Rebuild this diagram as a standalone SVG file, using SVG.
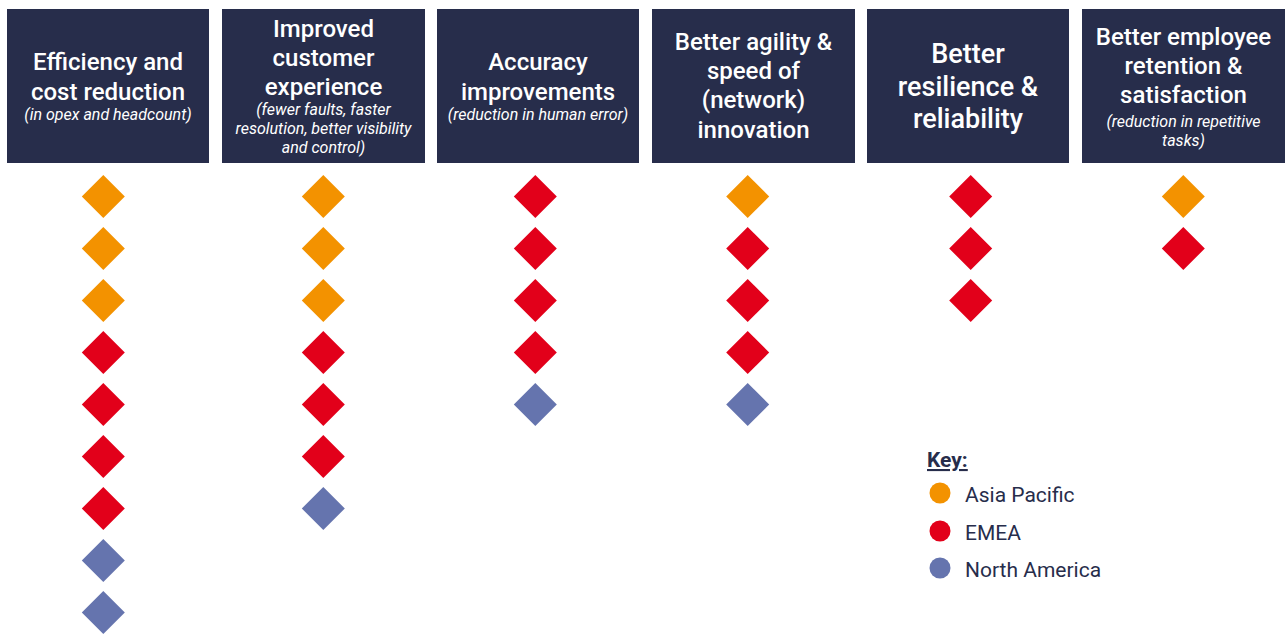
<svg xmlns="http://www.w3.org/2000/svg" width="1285" height="634" viewBox="0 0 1285 634">
<defs>
<style>
.hdr{fill:#272D4B}
.t{font-family:Roboto,"Liberation Sans",sans-serif;font-weight:500;font-size:24px;fill:#fff;text-anchor:middle}
.t2{font-family:Roboto,"Liberation Sans",sans-serif;font-weight:500;font-size:27px;fill:#fff;text-anchor:middle}
.s{font-family:Roboto,"Liberation Sans",sans-serif;font-style:italic;font-size:16px;fill:#fff;text-anchor:middle}
.ap{fill:#F39200}
.em{fill:#E2001A}
.na{fill:#6574AE}
.k{font-family:Roboto,"Liberation Sans",sans-serif;font-size:21px;fill:#272D4B}
</style>
<path id="d" d="M0,-21.5 L21.5,0 L0,21.5 L-21.5,0 Z"/>
</defs>
<rect width="1285" height="634" fill="#fff"/>
<g id="h1">
<rect class="hdr" x="7" y="9" width="202" height="154"/>
<text class="t" x="108" y="70">Efficiency and</text>
<text class="t" x="108" y="100">cost reduction</text>
<text class="s" x="108" y="120">(in opex and headcount)</text>
</g>
<g id="h2">
<rect class="hdr" x="222" y="9" width="203" height="154"/>
<text class="t" x="323.5" y="37">Improved</text>
<text class="t" x="323.5" y="66">customer</text>
<text class="t" x="323.5" y="95">experience</text>
<text class="s" x="323.5" y="115">(fewer faults, faster</text>
<text class="s" x="323.5" y="134">resolution, better visibility</text>
<text class="s" x="323.5" y="153">and control)</text>
</g>
<g id="h3">
<rect class="hdr" x="437" y="9" width="202" height="154"/>
<text class="t" x="538" y="70">Accuracy</text>
<text class="t" x="538" y="100">improvements</text>
<text class="s" x="538" y="120">(reduction in human error)</text>
</g>
<g id="h4">
<rect class="hdr" x="652" y="9" width="203" height="154"/>
<text class="t" x="753.5" y="50">Better agility &amp;</text>
<text class="t" x="753.5" y="79">speed of</text>
<text class="t" x="753.5" y="108">(network)</text>
<text class="t" x="753.5" y="138">innovation</text>
</g>
<g id="h5">
<rect class="hdr" x="867" y="9" width="202" height="154"/>
<text class="t2" x="968" y="63">Better</text>
<text class="t2" x="968" y="96">resilience &amp;</text>
<text class="t2" x="968" y="128">reliability</text>
</g>
<g id="h6">
<rect class="hdr" x="1082" y="9" width="203" height="154"/>
<text class="t" x="1183.5" y="45">Better employee</text>
<text class="t" x="1183.5" y="74">retention &amp;</text>
<text class="t" x="1183.5" y="103">satisfaction</text>
<text class="s" x="1183.5" y="127">(reduction in repetitive</text>
<text class="s" x="1183.5" y="146">tasks)</text>
</g>
<g id="col1">
<use href="#d" class="ap" x="103.3" y="196.5"/>
<use href="#d" class="ap" x="103.3" y="248.5"/>
<use href="#d" class="ap" x="103.3" y="300.5"/>
<use href="#d" class="em" x="103.3" y="352.5"/>
<use href="#d" class="em" x="103.3" y="404.5"/>
<use href="#d" class="em" x="103.3" y="456.5"/>
<use href="#d" class="em" x="103.3" y="508.5"/>
<use href="#d" class="na" x="103.3" y="560.5"/>
<use href="#d" class="na" x="103.3" y="612.5"/>
</g>
<g id="col2">
<use href="#d" class="ap" x="323.3" y="196.5"/>
<use href="#d" class="ap" x="323.3" y="248.5"/>
<use href="#d" class="ap" x="323.3" y="300.5"/>
<use href="#d" class="em" x="323.3" y="352.5"/>
<use href="#d" class="em" x="323.3" y="404.5"/>
<use href="#d" class="em" x="323.3" y="456.5"/>
<use href="#d" class="na" x="323.3" y="508.5"/>
</g>
<g id="col3">
<use href="#d" class="em" x="535.3" y="196.5"/>
<use href="#d" class="em" x="535.3" y="248.5"/>
<use href="#d" class="em" x="535.3" y="300.5"/>
<use href="#d" class="em" x="535.3" y="352.5"/>
<use href="#d" class="na" x="535.3" y="404.5"/>
</g>
<g id="col4">
<use href="#d" class="ap" x="747.7" y="196.5"/>
<use href="#d" class="em" x="747.7" y="248.5"/>
<use href="#d" class="em" x="747.7" y="300.5"/>
<use href="#d" class="em" x="747.7" y="352.5"/>
<use href="#d" class="na" x="747.7" y="404.5"/>
</g>
<g id="col5">
<use href="#d" class="em" x="970.7" y="196.5"/>
<use href="#d" class="em" x="970.7" y="248.5"/>
<use href="#d" class="em" x="970.7" y="300.5"/>
</g>
<g id="col6">
<use href="#d" class="ap" x="1183.3" y="196.5"/>
<use href="#d" class="em" x="1183.3" y="248.5"/>
</g>
<g id="key">
<text class="k" x="927" y="467" font-weight="700" font-size="20" text-decoration="underline">Key:</text>
<circle class="ap" cx="940" cy="493" r="10.5"/>
<text class="k" x="965" y="501.5">Asia Pacific</text>
<circle class="em" cx="940" cy="531" r="10.5"/>
<text class="k" x="965" y="539.5">EMEA</text>
<circle class="na" cx="940" cy="568" r="10.5"/>
<text class="k" x="965" y="577">North America</text>
</g>
</svg>
